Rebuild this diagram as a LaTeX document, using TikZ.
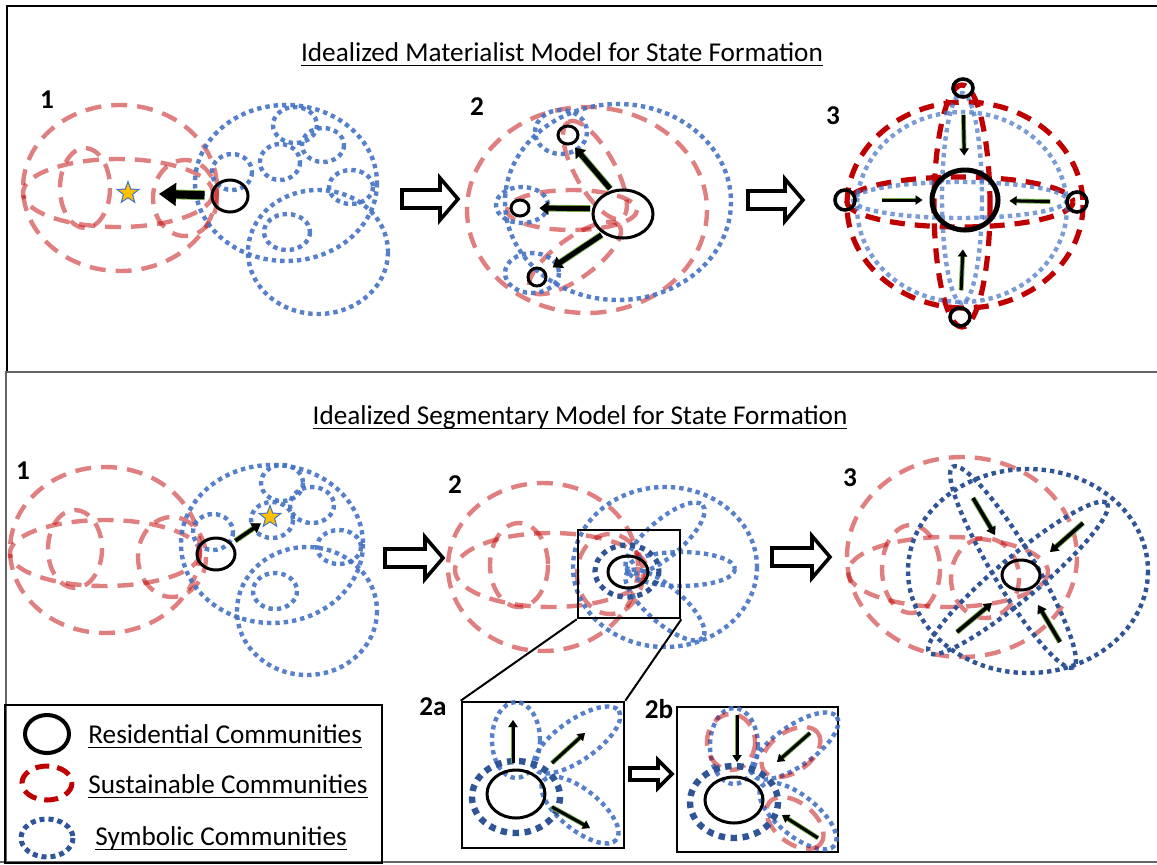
\documentclass[tikz,border=0pt]{standalone}
\usepackage{fontspec}
\setmainfont{Carlito}
\usetikzlibrary{shapes.geometric,arrows.meta}

\definecolor{sred}{RGB}{192,0,0}
\definecolor{sblue}{RGB}{68,114,196}
\definecolor{dblue}{RGB}{47,85,151}
\definecolor{staryel}{RGB}{255,192,0}
\definecolor{agreen}{RGB}{112,173,71}
\definecolor{rulegray}{RGB}{100,100,100}

\newcommand\capfont{\fontsize{13.6}{16}\selectfont}
% underlined caption text with a fixed rule offset below the baseline
\newcommand\ulbox[1]{\leavevmode\vtop{\hbox{\raisebox{0pt}[\height][0pt]{#1}}\kern2pt\hrule height 0.6pt}}
% one community boundary: style, centre x, centre y, x radius, y radius, rotation
\newcommand\commring[6]{\draw[#1, rotate around={#6:(#2,#3)}] (#2,#3) ellipse [x radius=#4, y radius=#5];}
% hollow block arrow: start x, axis y, length, shaft half-height, head half-height, head length
\newcommand\hollowarrow[6]{\draw[blockarr, shift={(#1,#2)}] (0,-#4) -- (#3-#6,-#4) -- (#3-#6,-#5) -- (#3,0) -- (#3-#6,#5) -- (#3-#6,#4) -- (0,#4) -- cycle;}

\tikzset{
  sus/.style={draw=sred, draw opacity=0.5, line width=2.2pt, dash pattern=on 8pt off 5pt},
  susd/.style={draw=sred, line width=2.6pt, dash pattern=on 7.5pt off 5pt},
  sym/.style={draw=sblue, draw opacity=0.9, line width=2.2pt, dash pattern=on 2.2pt off 2pt},
  syml/.style={draw=sblue, draw opacity=0.7, line width=2.2pt, dash pattern=on 2.2pt off 2pt},
  symd/.style={draw=dblue, line width=2.2pt, dash pattern=on 2.2pt off 2pt},
  symring/.style={draw=dblue, line width=3.2pt, dash pattern=on 3.2pt off 2.8pt},
  res/.style 2 args={ellipse, draw=black, line width=1.5pt, inner sep=0pt, minimum width=#1pt, minimum height=#2pt},
  panel/.style={draw=rulegray, line width=1pt},
  blockarr/.style={draw=black, fill=white, line width=1.8pt, line join=miter},
  lab/.style={font=\capfont\bfseries},
  flow/.style n args={3}{line width=#1, -{Triangle[length=#2,width=#3]},
    preaction={draw=agreen, line width=#1+0.9pt, -{Triangle[length=#2,width=#3]}}},
  starmark/.style={star, star points=5, star point ratio=2.4, fill=staryel, draw=sblue, line width=0.5pt, minimum size=11.5pt, inner sep=0pt},
  legbox/.style={draw=black, line width=1.2pt},
  zoomframe/.style={draw=black, line width=1.3pt, inner sep=0pt},
  keytext/.style={anchor=base west, font=\capfont, inner sep=0pt}
}

\begin{document}
\begin{tikzpicture}[x=0.5pt,y=-0.5pt]
\useasboundingbox (0,0) rectangle (1157,864);

% panel frames
\draw[panel, draw=black] (7,372) -- (7,6) -- (1157,6);
\draw[panel] (6,864) -- (6,372) -- (1157,372);
\draw[panel] (0,862) -- (1157,862);

% headings
\node[anchor=base, font=\capfont, inner sep=0pt] (head1) at (562,61) {\ulbox{Idealized Materialist Model for State Formation}};
\node[anchor=base, font=\capfont, inner sep=0pt] (head2) at (580,424) {\ulbox{Idealized Segmentary Model for State Formation}};

% stage numbers
\node[lab] (m1) at (47,100) {1};
\node[lab] (m2) at (477,107) {2};
\node[lab] (m3) at (833,116) {3};
\node[lab] (s1) at (23,471) {1};
\node[lab] (s2) at (455,485) {2};
\node[lab] (s3) at (850,478) {3};
\node[lab] (s2a) at (433,707) {2a};
\node[lab] (s2b) at (659,709) {2b};

% ---------- materialist model, stage 1
\commring{sus}{120}{188}{97}{83}{0}
\commring{sus}{118}{193}{95}{34}{0}
\commring{sus}{85}{188}{25}{40}{0}
\commring{sus}{185}{198}{32}{38}{0}
\commring{sym}{286}{183}{91}{78}{0}
\commring{sym}{232}{172}{20}{18}{0}
\commring{sym}{280}{162}{20}{18}{0}
\commring{sym}{295}{125}{22}{18}{0}
\commring{sym}{323}{145}{21}{17}{0}
\commring{sym}{351}{187}{22}{17}{0}
\commring{sym}{318}{252}{70}{62}{0}
\commring{sym}{287}{232}{23}{18}{0}
\node[res={18}{16}] (m1c) at (230,196) {};
\node[starmark] (m1s) at (128,193) {};
\draw[flow={4pt}{8.5pt}{11pt}, shorten <=3pt, shorten >=12pt] (m1c) -- (m1s);

\hollowarrow{402}{199}{56}{9}{21}{18}

% ---------- materialist model, stage 2
\commring{sus}{587}{210}{120}{103}{0}
\commring{sus}{595}{170}{55}{20}{119}
\commring{sus}{572}{210}{65}{20}{0}
\commring{sus}{575}{258}{55}{20}{36}
\commring{sym}{618}{202}{113}{98}{0}
\commring{sym}{561}{132}{26}{22}{0}
\commring{sym}{522}{205}{26}{18}{0}
\commring{sym}{532}{273}{27}{20}{0}
\node[res={30}{24}] (m2c) at (623,214) {};
\node[res={10}{9}] (m2a) at (568,135) {};
\node[res={9}{8}] (m2b) at (520,208) {};
\node[res={9}{9}] (m2d) at (537,277) {};
\draw[flow={2.5pt}{4.5pt}{6.5pt}, shorten <=1pt, shorten >=2pt] (m2c.116) -- (m2a.-65);
\draw[flow={2.5pt}{4.5pt}{6.5pt}, shorten <=1pt, shorten >=4.5pt] (m2c.170) -- (m2b.0);
\draw[flow={2.5pt}{4.5pt}{6.5pt}, shorten <=1pt, shorten >=4pt] (m2c.225) -- (m2d.30);

\hollowarrow{748}{200}{55}{9}{21}{18}

% ---------- materialist model, stage 3
\commring{susd}{965}{205}{118}{103}{0}
\commring{susd}{962}{206}{28}{121}{0}
\commring{susd}{960}{202}{113}{25}{0}
\commring{syml}{962}{207}{105}{95}{0}
\commring{syml}{962}{198}{20}{105}{0}
\commring{syml}{960}{200}{107}{18}{0}
\node[res={33}{30}, line width=2.5pt] (m3c) at (965,200) {};
\node[res={10}{9}, line width=1.8pt] (m3n) at (963,88) {};
\node[res={10}{10}, line width=1.8pt] (m3w) at (845,200) {};
\node[res={10}{10}, line width=1.8pt] (m3e) at (1077,202) {};
\node[res={10}{9}, line width=1.8pt] (m3s) at (960,317) {};
\draw[flow={1.5pt}{3.5pt}{4.5pt}, shorten <=8pt, shorten >=6pt] (m3n) -- (m3c);
\draw[flow={1.5pt}{3.5pt}{4.5pt}, shorten <=12.5pt, shorten >=3.5pt] (m3w) -- (m3c);
\draw[flow={1.5pt}{3.5pt}{4.5pt}, shorten <=7.5pt, shorten >=4.5pt] (m3e) -- (m3c);
\draw[flow={1.5pt}{3.5pt}{4.5pt}, shorten <=8pt, shorten >=8.5pt] (m3s) -- (m3c);

% ---------- segmentary model, stage 1
\commring{sus}{105}{550}{95}{83}{0}
\commring{sus}{105}{553}{95}{33}{0}
\commring{sus}{75}{549}{27}{39}{0}
\commring{sus}{172}{557}{34}{40}{0}
\commring{sym}{272}{544}{91}{79}{0}
\commring{sym}{213}{532}{20}{18}{0}
\commring{sym}{272}{520}{21}{18}{0}
\commring{sym}{282}{483}{21}{18}{0}
\commring{sym}{312}{505}{22}{18}{0}
\commring{sym}{339}{547}{22}{17}{0}
\commring{sym}{307}{611}{70}{64}{0}
\commring{sym}{275}{591}{22}{18}{0}
\node[res={19}{16}] (s1c) at (216,554) {};
\node[starmark] (s1s) at (270,517) {};
\draw[flow={1.8pt}{4.5pt}{5.5pt}, shorten <=2pt, shorten >=2pt] (s1c) -- (s1s);

\hollowarrow{385}{558}{58}{9}{21}{18}

% ---------- segmentary model, stage 2
\commring{sus}{543}{567}{95}{84}{0}
\commring{sus}{551}{570}{96}{37}{0}
\commring{sus}{519}{565}{29}{42}{0}
\commring{sus}{610}{574}{33}{40}{0}
\commring{sym}{665}{567}{92}{80}{0}
\commring{sym}{665}{538}{50}{18}{41}
\commring{sym}{681}{569}{54}{17}{0}
\commring{sym}{665}{605}{50}{18}{-41}
\commring{symring, line width=2.6pt, dash pattern=on 2.6pt off 2.4pt}{627}{571}{32}{26}{0}
\node[res={20}{16}] (s2c) at (628,572) {};
\node[zoomframe, minimum width=51pt, minimum height=44pt] (zoombox) at (629,574) {};

\hollowarrow{772}{557}{58}{9}{21}{18}

% ---------- segmentary model, stage 3
\commring{sus}{962}{557}{115}{100}{0}
\commring{sus}{948}{572}{100}{35}{0}
\commring{sus}{911}{569}{29}{44}{0}
\commring{sus}{985}{578}{34}{40}{0}
\commring{symd}{1028}{571}{120}{102}{0}
\commring{symd}{1013}{567}{117}{21}{-59}
\commring{symd}{1018}{578}{116}{21}{40}
\node[res={19}{15}] (s3c) at (1021,575) {};
\coordinate (q1a) at (973,498);  \coordinate (q1b) at (995,535);
\coordinate (q2a) at (1083,523); \coordinate (q2b) at (1050,552);
\coordinate (q3a) at (957,632);  \coordinate (q3b) at (992,603);
\coordinate (q4a) at (1060,642); \coordinate (q4b) at (1038,605);
\draw[flow={1.8pt}{4pt}{5pt}] (q1a) -- (q1b);
\draw[flow={1.8pt}{4pt}{5pt}] (q2a) -- (q2b);
\draw[flow={1.8pt}{4pt}{5pt}] (q3a) -- (q3b);
\draw[flow={1.8pt}{4pt}{5pt}] (q4a) -- (q4b);

% ---------- enlarged view 2a
\node[zoomframe, minimum width=81pt, minimum height=73pt] (boxa) at (543,775) {};
\commring{sym}{516}{740}{24}{38}{0}
\commring{sym}{577}{740}{51}{20}{35}
\commring{sym}{580}{810}{47}{20}{-39}
\commring{symring}{516}{797}{44}{36}{0}
\node[res={29}{24}] (s2ac) at (516,794) {};
\coordinate (a1a) at (513,763); \coordinate (a1b) at (513,720);
\coordinate (a2a) at (552,763); \coordinate (a2b) at (585,733);
\coordinate (a3a) at (552,807); \coordinate (a3b) at (590,828);
\draw[flow={1.5pt}{3.5pt}{4.5pt}] (a1a) -- (a1b);
\draw[flow={1.5pt}{3.5pt}{4.5pt}] (a2a) -- (a2b);
\draw[flow={1.5pt}{3.5pt}{4.5pt}] (a3a) -- (a3b);

\draw[line width=1pt] (zoombox.south west) -- (boxa.north west);
\draw[line width=1pt] (zoombox.south east) -- (boxa.north east);

\hollowarrow{630}{774}{42}{6}{14}{14}

% ---------- enlarged view 2b
\node[zoomframe, minimum width=80.5pt, minimum height=72.5pt] (boxb) at (757.5,779.5) {};
\commring{sym}{734}{746}{24}{38}{0}
\commring{sym}{795}{746}{51}{20}{35}
\commring{sym}{798}{816}{47}{20}{-39}
\commring{sus}{731}{742}{24}{28}{0}
\commring{sus}{791}{752}{33}{20}{35}
\commring{sus}{795}{823}{33}{20}{-39}
\commring{symring}{734}{802}{44}{36}{0}
\node[res={29}{23}] (s2bc) at (734,800) {};
\coordinate (b1a) at (737,715); \coordinate (b1b) at (737,762);
\coordinate (b2a) at (810,733); \coordinate (b2b) at (777,762);
\coordinate (b3a) at (818,838); \coordinate (b3b) at (782,815);
\draw[flow={1.5pt}{3.5pt}{4.5pt}] (b1a) -- (b1b);
\draw[flow={1.5pt}{3.5pt}{4.5pt}] (b2a) -- (b2b);
\draw[flow={1.5pt}{3.5pt}{4.5pt}] (b3a) -- (b3b);

% ---------- key
\draw[legbox] (5,705) rectangle (382,863);
\node[res={22}{19}, line width=2pt] (kres) at (47,734) {};
\commring{susd, line width=2.5pt, dash pattern=on 7pt off 4pt}{47}{783}{25}{17}{0}
\commring{symd, line width=2.5pt, dash pattern=on 2.5pt off 2pt}{47}{838}{26}{19}{0}
\node[keytext] (kt1) at (88,743) {\ulbox{Residential Communities}};
\node[keytext] (kt2) at (88,793) {\ulbox{Sustainable Communities}};
\node[keytext] (kt3) at (95,845) {\ulbox{Symbolic Communities}};
\end{tikzpicture}
\end{document}
